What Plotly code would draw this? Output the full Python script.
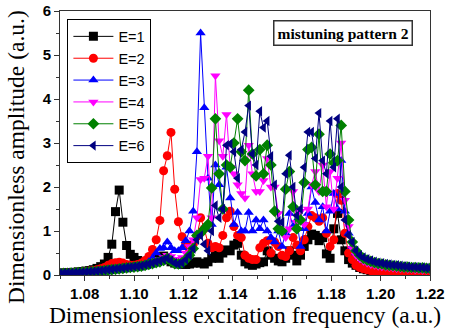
import plotly.graph_objects as go

freq = [1.0700, 1.0715, 1.0730, 1.0745, 1.0760, 1.0775, 1.0790, 1.0805, 1.0820, 1.0835,
        1.0850, 1.0865, 1.0880, 1.0895, 1.0910, 1.0925, 1.0940, 1.0955, 1.0970, 1.0985,
        1.1000, 1.1015, 1.1030, 1.1045, 1.1060, 1.1075, 1.1090, 1.1105, 1.1120, 1.1135,
        1.1150, 1.1165, 1.1180, 1.1195, 1.1210, 1.1225, 1.1240, 1.1255, 1.1270, 1.1285,
        1.1300, 1.1315, 1.1330, 1.1345, 1.1360, 1.1375, 1.1390, 1.1405, 1.1420, 1.1435,
        1.1450, 1.1465, 1.1480, 1.1495, 1.1510, 1.1525, 1.1540, 1.1555, 1.1570, 1.1585,
        1.1600, 1.1615, 1.1630, 1.1645, 1.1660, 1.1675, 1.1690, 1.1705, 1.1720, 1.1735,
        1.1750, 1.1765, 1.1780, 1.1795, 1.1810, 1.1825, 1.1840, 1.1855, 1.1870, 1.1885,
        1.1900, 1.1915, 1.1930, 1.1945, 1.1960, 1.1975, 1.1990, 1.2005, 1.2020, 1.2035,
        1.2050, 1.2065, 1.2080, 1.2095, 1.2110, 1.2125, 1.2140, 1.2155, 1.2170, 1.2185,
        1.2200]

amp_e1 = [0.04, 0.045, 0.05, 0.055, 0.06, 0.07, 0.08, 0.09, 0.10, 0.12,
          0.15, 0.19, 0.25, 0.40, 0.70, 1.44, 1.93, 1.20, 0.67, 0.47,
          0.40, 0.33, 0.30, 0.30, 0.32, 0.35, 0.38, 0.40, 0.43, 0.35,
          0.30, 0.27, 0.25, 0.25, 0.24, 0.25, 0.27, 0.30, 0.27, 0.25,
          0.30, 0.38, 0.45, 0.38, 0.50, 0.57, 0.55, 0.68, 0.72, 0.45,
          0.30, 0.25, 0.22, 0.25, 0.28, 0.30, 0.55, 0.45, 0.38, 0.32,
          0.30, 0.38, 0.55, 0.45, 0.32, 0.45, 0.65, 0.80, 0.93, 0.90,
          0.78, 0.85, 0.48, 0.38, 1.05, 1.40, 0.80, 0.55, 0.35, 0.27,
          0.22, 0.17, 0.14, 0.12, 0.10, 0.09, 0.08, 0.075, 0.07, 0.065,
          0.06, 0.055, 0.05, 0.05, 0.05, 0.045, 0.045, 0.045, 0.04, 0.04,
          0.04]

amp_e2 = [0.04, 0.045, 0.05, 0.055, 0.06, 0.065, 0.07, 0.08, 0.09, 0.10,
          0.12, 0.14, 0.17, 0.22, 0.26, 0.28, 0.29, 0.27, 0.24, 0.22,
          0.22, 0.24, 0.27, 0.33, 0.42, 0.58, 0.80, 1.24, 2.37, 2.71,
          3.24, 1.95, 1.21, 0.87, 0.72, 0.58, 0.70, 0.88, 1.30, 1.05,
          0.72, 0.62, 0.65, 0.62, 0.90, 1.30, 1.45, 1.10, 0.90, 0.85,
          0.45, 0.38, 0.35, 0.35, 0.62, 0.72, 0.78, 0.50, 0.75, 0.65,
          0.45, 0.42, 0.55, 0.85, 0.68, 0.55, 0.80, 1.10, 1.35, 1.30,
          1.22, 1.30, 0.95, 0.65, 0.80, 1.85, 1.70, 0.95, 0.50, 0.35,
          0.22, 0.17, 0.14, 0.12, 0.10, 0.09, 0.08, 0.07, 0.065, 0.06,
          0.055, 0.05, 0.05, 0.045, 0.045, 0.04, 0.04, 0.035, 0.035, 0.035,
          0.03]

amp_e3 = [0.03, 0.035, 0.04, 0.04, 0.045, 0.05, 0.055, 0.06, 0.065, 0.07,
          0.08, 0.09, 0.10, 0.11, 0.12, 0.13, 0.14, 0.15, 0.16, 0.17,
          0.18, 0.20, 0.22, 0.25, 0.30, 0.38, 0.50, 0.60, 0.62, 0.75,
          0.62, 0.55, 0.55, 0.62, 0.78, 1.00, 1.45, 2.80, 5.50, 3.80,
          2.20, 1.15, 2.50, 2.05, 1.50, 2.45, 1.75, 1.15, 1.42, 1.00,
          1.00, 1.42, 1.00, 1.25, 1.05, 1.25, 1.00, 0.85, 0.75, 1.00,
          0.65, 0.95, 1.40, 1.10, 1.25, 0.65, 1.05, 1.40, 2.00, 1.65,
          1.25, 1.55, 1.00, 1.45, 1.85, 1.50, 2.60, 1.45, 0.95, 0.65,
          0.50, 0.42, 0.36, 0.32, 0.29, 0.27, 0.25, 0.23, 0.22, 0.21,
          0.20, 0.19, 0.18, 0.17, 0.17, 0.16, 0.16, 0.15, 0.15, 0.14,
          0.14]

amp_e4 = [0.03, 0.03, 0.035, 0.04, 0.04, 0.045, 0.05, 0.055, 0.06, 0.065,
          0.07, 0.08, 0.09, 0.10, 0.11, 0.12, 0.13, 0.14, 0.15, 0.16,
          0.17, 0.18, 0.20, 0.22, 0.25, 0.28, 0.32, 0.36, 0.40, 0.45,
          0.42, 0.36, 0.35, 0.40, 0.50, 0.65, 0.80, 1.30, 2.17, 2.20,
          2.70, 1.30, 4.53, 3.05, 2.70, 3.65, 2.45, 2.30, 2.05, 1.85,
          1.75, 2.95, 2.30, 1.90, 1.90, 2.15, 2.65, 2.00, 2.00, 1.40,
          1.00, 0.85, 1.05, 1.90, 1.20, 1.45, 1.15, 1.50, 2.05, 2.35,
          1.90, 2.50, 1.55, 2.35, 1.50, 2.20, 3.00, 1.70, 1.10, 0.60,
          0.45, 0.37, 0.31, 0.27, 0.24, 0.22, 0.20, 0.19, 0.18, 0.17,
          0.16, 0.15, 0.14, 0.14, 0.13, 0.13, 0.12, 0.12, 0.11, 0.11,
          0.11]

amp_e5 = [0.03, 0.035, 0.04, 0.045, 0.05, 0.055, 0.06, 0.065, 0.07, 0.075,
          0.08, 0.09, 0.10, 0.11, 0.12, 0.13, 0.14, 0.15, 0.16, 0.17,
          0.18, 0.19, 0.20, 0.22, 0.24, 0.26, 0.28, 0.30, 0.33, 0.38,
          0.32, 0.26, 0.25, 0.28, 0.35, 0.45, 0.60, 0.90, 0.95, 1.05,
          1.15, 1.98, 3.55, 2.30, 1.50, 2.50, 2.45, 3.00, 3.55, 2.80,
          2.60, 4.20, 2.75, 2.25, 2.85, 2.30, 2.95, 2.50, 1.45, 1.05,
          1.00, 1.95, 2.35, 1.55, 1.05, 1.25, 2.10, 2.85, 2.90, 2.05,
          3.20, 1.90, 1.90, 2.75, 2.55, 2.60, 3.40, 1.90, 1.25, 0.75,
          0.55, 0.45, 0.38, 0.34, 0.31, 0.28, 0.26, 0.25, 0.23, 0.22,
          0.21, 0.20, 0.19, 0.18, 0.18, 0.17, 0.17, 0.16, 0.16, 0.15,
          0.15]

amp_e6 = [0.04, 0.045, 0.05, 0.05, 0.055, 0.06, 0.065, 0.07, 0.075, 0.08,
          0.09, 0.10, 0.11, 0.12, 0.13, 0.14, 0.15, 0.16, 0.17, 0.18,
          0.19, 0.20, 0.21, 0.23, 0.25, 0.27, 0.30, 0.32, 0.35, 0.38,
          0.33, 0.27, 0.25, 0.28, 0.35, 0.45, 0.60, 0.80, 0.90, 0.70,
          0.55, 1.00, 1.58, 1.30, 1.50, 2.95, 2.98, 2.80, 2.20, 2.85,
          3.25, 3.85, 2.75, 2.50, 3.72, 3.35, 3.50, 2.70, 2.05, 1.22,
          1.20, 2.30, 2.72, 2.00, 1.35, 1.50, 2.45, 3.25, 3.25, 2.65,
          3.68, 2.60, 2.30, 3.50, 2.45, 3.55, 2.00, 1.25, 0.90, 0.75,
          0.55, 0.45, 0.40, 0.36, 0.33, 0.30, 0.28, 0.27, 0.25, 0.24,
          0.23, 0.22, 0.21, 0.20, 0.19, 0.18, 0.18, 0.17, 0.17, 0.16,
          0.16]

series_names = ["E=1", "E=2", "E=3", "E=4", "E=5", "E=6"]
series_values = [amp_e1, amp_e2, amp_e3, amp_e4, amp_e5, amp_e6]
colors = ["#000000", "#ff0000", "#0000ff", "#ff00ff", "#008000", "#000080"]
symbols = ["square", "circle", "triangle-up", "triangle-down", "diamond", "triangle-left"]

fig = go.Figure()
for name, vals, col, sym in zip(series_names, series_values, colors, symbols):
    fig.add_trace(go.Scatter(
        x=freq, y=vals, name=name, mode="lines+markers",
        line=dict(color=col, width=1),
        marker=dict(symbol=sym, size=9, color=col, line=dict(width=0)),
    ))

axis_common = dict(
    showline=True, linecolor="#333333", linewidth=1, mirror=True,
    ticks="outside", ticklen=5, tickwidth=1, tickcolor="#333333",
    showgrid=False, zeroline=False, automargin=False,
    tickfont=dict(family="Liberation Sans, Arial, sans-serif", size=15, color="#000000", weight="bold"),
    title_font=dict(family="Liberation Serif, Times New Roman, serif", size=23.5, color="#000000"),
)

fig.update_xaxes(
    range=[1.07, 1.22], tick0=1.08, dtick=0.02, tickformat=".2f",
    minor=dict(ticks="outside", ticklen=3, dtick=0.01, tick0=1.07, tickcolor="#333333"),
    title_text="Dimensionless excitation frequency (a.u.)", title_standoff=1,
    **axis_common,
)
fig.update_yaxes(
    range=[0, 6], tick0=0, dtick=1,
    minor=dict(ticks="outside", ticklen=3, dtick=0.5, tickcolor="#333333"),
    **axis_common,
)

fig.update_layout(
    width=452, height=331,
    margin=dict(l=60, r=22, t=11, b=56, autoexpand=False),
    paper_bgcolor="white", plot_bgcolor="white",
    showlegend=True,
    legend=dict(
        x=0.02, y=0.968, xanchor="left", yanchor="top",
        bgcolor="white", bordercolor="#000000", borderwidth=1,
        font=dict(family="Liberation Sans, Arial, sans-serif", size=14.5, color="#000000"),
        tracegroupgap=0, itemwidth=40,
    ),
    annotations=[
        dict(
            text="<b>mistuning pattern 2</b>", xref="paper", yref="paper",
            x=0.766, y=0.918, xanchor="center", yanchor="middle", showarrow=False,
            font=dict(family="Liberation Serif, Times New Roman, serif", size=15.5, color="#000000"),
            bordercolor="#333333", borderwidth=1.5, borderpad=3, bgcolor="white",
        ),
        dict(
            text="Dimensionless amplitude (a.u.)", xref="paper", yref="paper",
            x=-0.119, y=0.447, xanchor="center", yanchor="middle", textangle=-90,
            showarrow=False,
            font=dict(family="Liberation Serif, Times New Roman, serif", size=23.5, color="#000000"),
        ),
    ],
)

fig.write_html("out.html", post_script="document.body.style.margin='0';",
               config={"displayModeBar": False})
